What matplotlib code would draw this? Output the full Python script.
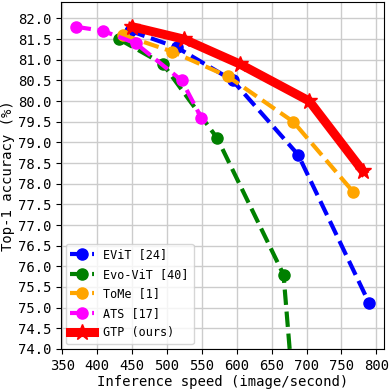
import numpy as np
import matplotlib
matplotlib.use("Agg")
import matplotlib.pyplot as plt

plt.rcParams['font.family'] = 'DejaVu Sans Mono'
plt.rcParams['font.size'] = 10

# speed (image/second) vs top-1 accuracy (%)
evit_speed = [447, 514, 594, 688, 790]
evit_acc = [81.7, 81.3, 80.5, 78.7, 75.1]

evo_speed = [431, 494, 572, 667, 688]
evo_acc = [81.5, 80.9, 79.1, 75.8, 71.5]

tome_speed = [437, 507, 587, 681, 767]
tome_acc = [81.6, 81.2, 80.6, 79.5, 77.8]

ats_speed = [369, 408, 455, 521, 549]
ats_acc = [81.8, 81.7, 81.4, 80.5, 79.6]

gtp_speed = [450, 524, 604, 704, 781]
gtp_acc = [81.8, 81.5, 80.9, 80.0, 78.3]

fig = plt.figure(figsize=(3.91, 3.89), dpi=100)
ax = fig.add_axes([0.156, 0.103, 0.826, 0.892])

ax.plot(evit_speed, evit_acc, '--o', color='blue', lw=3, ms=8, label='EViT [24]')
ax.plot(evo_speed, evo_acc, '--o', color='green', lw=3, ms=8, label='Evo-ViT [40]')
ax.plot(tome_speed, tome_acc, '--o', color='orange', lw=3, ms=8, label='ToMe [1]')
ax.plot(ats_speed, ats_acc, '--o', color='magenta', lw=3, ms=8, label='ATS [17]')
ax.plot(gtp_speed, gtp_acc, '-*', color='red', lw=6.5, ms=12, label='GTP (ours)')

ax.set_xlim(348, 811)
ax.set_ylim(74.0, 82.4)
ax.set_xticks(np.arange(350, 801, 50))
ax.set_yticks(np.arange(74.0, 82.01, 0.5))
ax.yaxis.set_major_formatter(matplotlib.ticker.FormatStrFormatter('%.1f'))
ax.grid(True, color='#cccccc', lw=1)
ax.set_axisbelow(True)

ax.set_xlabel('Inference speed (image/second)', labelpad=2)
ax.set_ylabel('Top-1 accuracy (%)', labelpad=2)
ax.legend(loc='lower left', fontsize=8.5, labelspacing=0.55, borderaxespad=0.4)

fig.savefig('out.png', dpi=100)
